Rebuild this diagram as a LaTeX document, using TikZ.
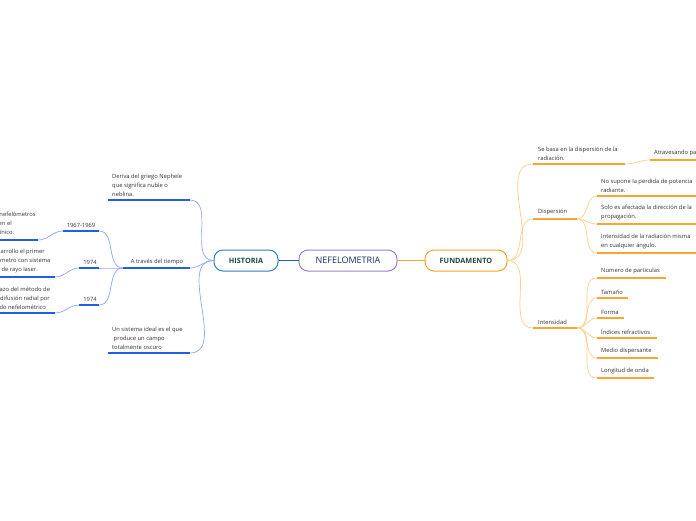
\documentclass[tikz,border=0pt]{standalone}
\usepackage{fontspec}
\setmainfont{Open Sans}
\usetikzlibrary{positioning}

\definecolor{histborder}{HTML}{2C80BC}
\definecolor{histtext}{HTML}{1E4A3E}
\definecolor{nefborder}{HTML}{9C80C9}
\definecolor{neftext}{HTML}{1B2A5C}
\definecolor{fundborder}{HTML}{F6A623}
\definecolor{bluebar}{HTML}{1F5FE3}
\definecolor{bluelink}{HTML}{8DA9F4}
\definecolor{orangebar}{HTML}{F8A630}
\definecolor{orangelink}{HTML}{FDD08A}
\definecolor{leaftext}{HTML}{333333}

\tikzset{
  topic/.style={draw, line width=1pt, rounded corners=9pt, minimum height=21pt,
    inner sep=2pt, fill=white},
  leaf/.style={anchor=south west, inner sep=0pt, align=left, text=leaftext,
    font=\fontsize{5.8}{9}\selectfont},
  tag/.style={anchor=south, inner sep=0pt, text=leaftext,
    font=\fontsize{5.8}{9}\selectfont},
  bbar/.style={bluebar, line width=1.4pt},
  blink/.style={bluelink, line width=0.7pt},
  obar/.style={orangebar, line width=1.4pt},
  olink/.style={orangelink, line width=0.7pt},
}

\begin{document}
\begin{tikzpicture}[x=1pt,y=-1pt]
\useasboundingbox[fill=white] (0,0) rectangle (696,520);

% central topics
\node[topic, draw=nefborder, text=neftext, minimum width=98pt,
  font=\fontsize{9}{10}\selectfont] (nef) at (348,260.5) {NEFELOMETRIA};
\node[topic, draw=histborder, text=histtext, minimum width=64pt,
  font=\fontsize{7.3}{9}\bfseries, left=20pt of nef] (historia) {HISTORIA};
\node[topic, draw=fundborder, text=histtext, minimum width=82pt,
  font=\fontsize{7.3}{9}\bfseries, right=27pt of nef] (fundamento) {FUNDAMENTO};
\draw[bluebar, line width=1pt] (historia) -- (nef);
\draw[orangebar, line width=1pt] (nef) -- (fundamento);

% HISTORIA side
\coordinate (deriva-l) at (108,200);
\coordinate (deriva-r) at (190,200);
\node[leaf] (deriva) at (112,196.5) {Deriva del griego Nephele\\que significa nuble o\\neblina.};
\draw[bbar] (deriva-l) -- (deriva-r);
\draw[blink] (historia.west) to[out=180,in=0] (deriva-r);

\coordinate (tiempo-l) at (123,268);
\coordinate (tiempo-r) at (190,268);
\node[tag] (tiempo) at (157,265.5) {A través del tiempo};
\draw[bbar] (tiempo-l) -- (tiempo-r);
\draw[blink] (historia.west) to[out=180,in=0] (tiempo-r);

\coordinate (sistema-l) at (108,353);
\coordinate (sistema-r) at (190,353);
\node[leaf] (sistema) at (112,349.5) {Un sistema ideal es el que\\\ produce un campo\\totalmente oscuro};
\draw[bbar] (sistema-l) -- (sistema-r);
\draw[blink] (historia.west) to[out=180,in=0] (sistema-r);

% years
\coordinate (anio1-l) at (63,231);
\coordinate (anio1-r) at (99,231);
\node[tag] (anio1) at (81,227.5) {1967-1969};
\draw[bbar] (anio1-l) -- (anio1-r);
\draw[blink] (tiempo-l) to[out=180,in=0] (anio1-r);

\coordinate (anio2-l) at (79,268);
\coordinate (anio2-r) at (99,268);
\node[tag] (anio2) at (90,264.5) {1974};
\draw[bbar] (anio2-l) -- (anio2-r);
\draw[blink] (tiempo-l) to[out=180,in=0] (anio2-r);

\coordinate (anio3-l) at (79,305);
\coordinate (anio3-r) at (99,305);
\node[tag] (anio3) at (90,301.5) {1974};
\draw[bbar] (anio3-l) -- (anio3-r);
\draw[blink] (tiempo-l) to[out=180,in=0] (anio3-r);

% leaves cut by the left edge
\coordinate (primeros-l) at (-60,240);
\coordinate (primeros-r) at (38,240);
\node[leaf] (primeros) at (-37,236.5) {Aparecen los nefelómetros\\introducidos en el\\diagnóstico clínico.};
\draw[bbar] (primeros-l) -- (primeros-r);
\draw[blink] (primeros-r) to[out=0,in=180] (anio1-l);

\coordinate (laser-l) at (-60,277);
\coordinate (laser-r) at (55,277);
\node[leaf] (laser) at (-17,273.5) {Se desarrollo el primer\\nefelómetro con sistema\\óptico de rayo laser.};
\draw[bbar] (laser-l) -- (laser-r);
\draw[blink] (laser-r) to[out=0,in=180] (anio2-l);

\coordinate (difusion-l) at (-60,313);
\coordinate (difusion-r) at (55,313);
\node[leaf] (difusion) at (-21,309.5) {Reemplazo del método de\\inmunodifusión radial por\\el método nefelométrico};
\draw[bbar] (difusion-l) -- (difusion-r);
\draw[blink] (difusion-r) to[out=0,in=180] (anio3-l);

% FUNDAMENTO side
\coordinate (basa-l) at (533,164);
\coordinate (basa-r) at (625,164);
\node[leaf] (basa) at (538,160.5) {Se basa en la dispersión de la\\radiación.};
\draw[obar] (basa-l) -- (basa-r);
\draw[olink] (fundamento.east) to[out=0,in=180] (basa-l);

\coordinate (atraves-l) at (650,160);
\coordinate (atraves-r) at (720,160);
\node[leaf] (atraves) at (654,156.5) {Atravesando para};
\draw[obar] (atraves-l) -- (atraves-r);
\draw[olink] (basa-r) to[out=0,in=180] (atraves-l);

\coordinate (disp-l) at (533,219);
\coordinate (disp-r) at (577,219);
\node[leaf] (disp) at (538,215.5) {Dispersión};
\draw[obar] (disp-l) -- (disp-r);
\draw[olink] (fundamento.east) to[out=0,in=180] (disp-l);

\coordinate (supone-l) at (597,196);
\coordinate (supone-r) at (720,196);
\node[leaf] (supone) at (601,192.5) {No supone la perdida de potencia\\radiante.};
\draw[obar] (supone-l) -- (supone-r);
\draw[olink] (disp-r) to[out=0,in=180] (supone-l);

\coordinate (solo-l) at (597,224);
\coordinate (solo-r) at (720,224);
\node[leaf] (solo) at (601,220.5) {Solo es afectada la dirección de la\\propagación.};
\draw[obar] (solo-l) -- (solo-r);
\draw[olink] (disp-r) to[out=0,in=180] (solo-l);

\coordinate (misma-l) at (597,253);
\coordinate (misma-r) at (720,253);
\node[leaf] (misma) at (601,249.5) {Intensidad de la radiación misma\\en cualquier ángulo.};
\draw[obar] (misma-l) -- (misma-r);
\draw[olink] (disp-r) to[out=0,in=180] (misma-l);

\coordinate (inten-l) at (533,328);
\coordinate (inten-r) at (577,328);
\node[leaf] (inten) at (538,324.5) {Intensidad};
\draw[obar] (inten-l) -- (inten-r);
\draw[olink] (fundamento.east) to[out=0,in=180] (inten-l);

\foreach \name/\yy/\xend/\txt in {
  particulas/278/666/Numero de particulas,
  tamano/298/628/Tamaño,
  forma/318/624/Forma,
  indices/338/657/Índices refractivos,
  medio/358/658/Medio dispersante,
  onda/378/654/Longitud de onda} {
  \coordinate (\name-l) at (597,\yy);
  \coordinate (\name-r) at (\xend,\yy);
  \node[leaf] (\name) at (601,\yy-3.5) {\txt};
  \draw[obar] (\name-l) -- (\name-r);
  \draw[olink] (inten-r) to[out=0,in=180] (\name-l);
}
\end{tikzpicture}
\end{document}
